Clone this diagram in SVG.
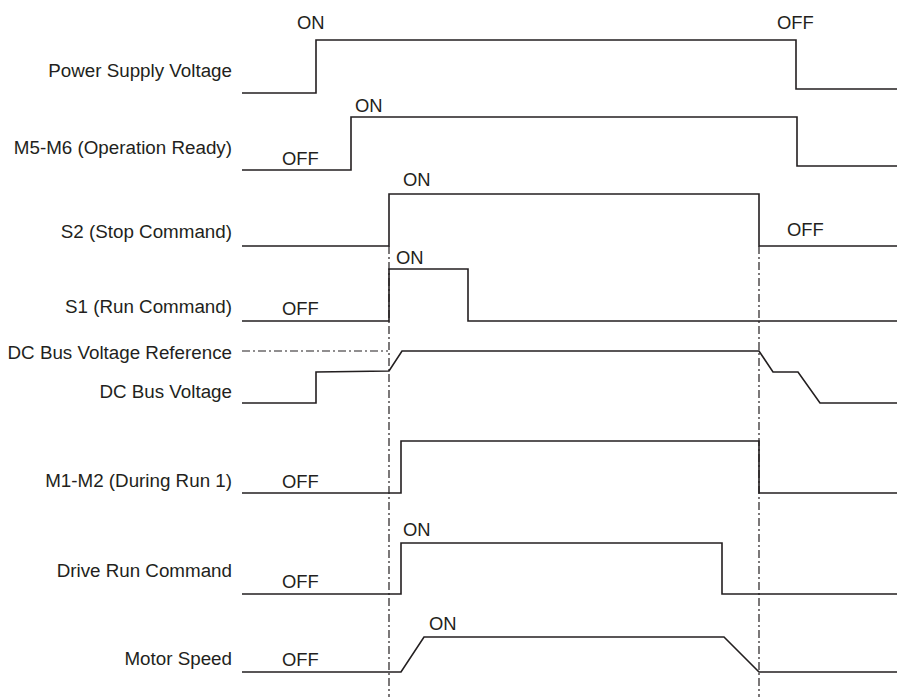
<svg xmlns="http://www.w3.org/2000/svg" width="897" height="697" viewBox="0 0 897 697">
<style>
text{font-family:"Liberation Sans",Arial,sans-serif;font-size:18.4px;fill:#231f20}
.lbl{text-anchor:end;font-size:18.8px}
.w{fill:none;stroke:#231f20;stroke-width:1.6;stroke-linejoin:miter}
.dd{fill:none;stroke:#231f20;stroke-width:1.2;stroke-dasharray:8 3 2 3}
</style>
<rect width="897" height="697" fill="#fff"/>
<g id="connectors">
<line class="dd" x1="389" y1="246" x2="389" y2="697"/>
<line class="dd" x1="759" y1="246" x2="759" y2="697"/>
</g>
<g id="power-supply-voltage">
<text class="lbl" x="232" y="77">Power Supply Voltage</text>
<polyline class="w" points="242,93 316,93 316,40 796,40 796,89 897,89"/>
<text x="297" y="29">ON</text>
<text x="777" y="29">OFF</text>
</g>
<g id="m5-m6">
<text class="lbl" x="232" y="154">M5-M6 (Operation Ready)</text>
<polyline class="w" points="242,170 351,170 351,117 797,117 797,166 897,166"/>
<text x="355" y="112">ON</text>
<text x="282" y="165">OFF</text>
</g>
<g id="s2">
<text class="lbl" x="232" y="238">S2 (Stop Command)</text>
<polyline class="w" points="242,246 389,246 389,194 759,194 759,246 897,246"/>
<text x="403" y="186">ON</text>
<text x="787" y="236">OFF</text>
</g>
<g id="s1">
<text class="lbl" x="232" y="313">S1 (Run Command)</text>
<polyline class="w" points="242,321 389,321 389,269 468,269 468,321 897,321"/>
<text x="396" y="264">ON</text>
<text x="282" y="315">OFF</text>
</g>
<g id="dc-bus-voltage-reference">
<text class="lbl" x="232" y="359">DC Bus Voltage Reference</text>
<line class="dd" x1="242" y1="351" x2="388" y2="351"/>
</g>
<g id="dc-bus-voltage">
<text class="lbl" x="232" y="398">DC Bus Voltage</text>
<polyline class="w" points="242,403 316,403 316,372 389,371 402,351 759,351 773,372 798,372 820,403 897,403"/>
</g>
<g id="m1-m2">
<text class="lbl" x="232" y="487">M1-M2 (During Run 1)</text>
<polyline class="w" points="242,493 401,493 401,441 759,441 759,493 897,493"/>
<text x="282" y="488">OFF</text>
</g>
<g id="drive-run-command">
<text class="lbl" x="232" y="577">Drive Run Command</text>
<polyline class="w" points="242,594 401,594 401,543 722,543 722,594 897,594"/>
<text x="403" y="536">ON</text>
<text x="282" y="588">OFF</text>
</g>
<g id="motor-speed">
<text class="lbl" x="232" y="665">Motor Speed</text>
<polyline class="w" points="242,672 401,672 424,637 724,637 759,672 897,672"/>
<text x="429" y="630">ON</text>
<text x="282" y="666">OFF</text>
</g>
</svg>
